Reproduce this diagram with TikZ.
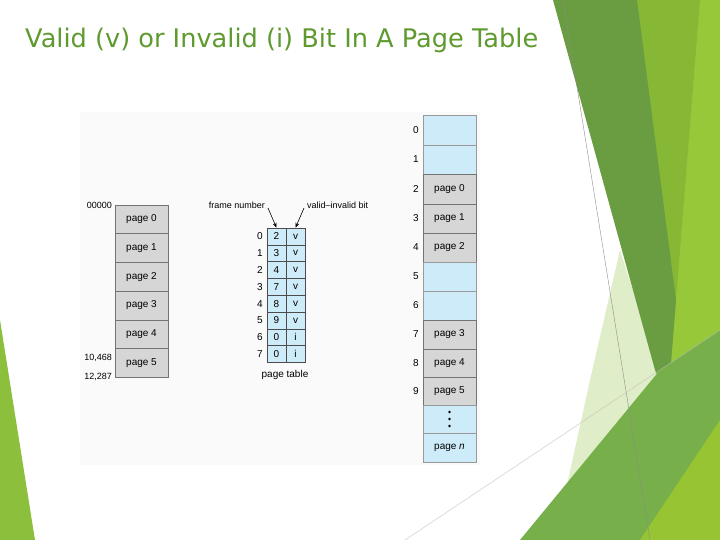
\documentclass[tikz,border=0pt]{standalone}
\usepackage{fontspec}
\setmainfont{Liberation Sans}
\newfontfamily\ttlfont{DejaVu Sans}
\usetikzlibrary{arrows.meta}
\definecolor{cgray}{HTML}{D6D6D6}
\definecolor{cblue}{HTML}{CDEBF8}
\definecolor{ttl}{HTML}{5E9A2E}
\tikzset{
 gcell/.style={draw=black!55,fill=cgray,line width=0.6pt,minimum width=53pt,inner sep=0pt,font=\fontsize{10}{12}\selectfont},
 bcell/.style={draw=black!40,fill=cblue,line width=0.5pt,minimum width=53pt,inner sep=0pt,font=\fontsize{10}{12}\selectfont},
 ptc/.style={draw=black!70,fill=cblue,line width=0.5pt,minimum width=19pt,minimum height=16.8pt,inner sep=0pt,font=\fontsize{10}{12}\selectfont},
 lbl/.style={inner sep=0pt,font=\fontsize{10}{12}\selectfont},
 slbl/.style={inner sep=0pt,font=\fontsize{9}{11}\selectfont}
}
\begin{document}
\begin{tikzpicture}[x=1pt,y=-1pt]
\useasboundingbox (0,0) rectangle (720,540);
% decorations
\fill[fill={rgb,255:red,150;green,200;blue,58}] (637,0) -- (720,0) -- (720,540) -- (630,540) -- (660,380) -- cycle;
\fill[fill={rgb,255:red,134;green,184;blue,54}] (637,0) -- (700,0) -- (676,300) -- (668,400) -- cycle;
\fill[fill={rgb,255:red,223;green,238;blue,200}] (620,250) -- (668,400) -- (610,470) -- (555,540) -- (590,380) -- cycle;
\fill[fill={rgb,255:red,106;green,156;blue,66}] (553,0) -- (637,0) -- (676,300) -- (668,400) -- (655,370) -- cycle;
\fill[fill={rgb,255:red,119;green,176;blue,74}] (520,540) -- (660,370) -- (720,330) -- (720,540) -- cycle;
\fill[fill={rgb,255:red,150;green,196;blue,50}] (640,540) -- (720,420) -- (720,540) -- cycle;
\fill[fill={rgb,255:red,140;green,192;blue,60}] (0,320) -- (35,540) -- (0,540) -- cycle;
\draw[black!45,line width=0.4pt] (563,0) -- (650,540);
\draw[black!25,line width=0.4pt] (405,540) -- (720,330);
% title
\node[anchor=west,inner sep=0pt,text=ttl] (title) at (25,40) {\resizebox{513pt}{!}{\ttlfont\fontsize{19}{22}\selectfont Valid (v) or Invalid (i) Bit In A Page Table}};
% figure background
\fill[black!2] (80,112) rectangle (480,465);
% logical memory
\foreach \t [count=\i from 0] in {page 0,page 1,page 2,page 3,page 4,page 5}{
  \node[gcell,minimum height=28.7pt] (L\i) at (141.5,{219.35+28.7*\i}) {\t};
}
\node[slbl,anchor=east] (a0) at (112,205) {00000};
\node[slbl,anchor=east] (a1) at (112,358) {10,468};
\node[slbl,anchor=east] (a2) at (112,377) {12,287};
% page table
\foreach \f/\v [count=\i from 0] in {2/v,3/v,4/v,7/v,8/v,9/v,0/i,0/i}{
  \node[ptc] (F\i) at (276.5,{236.4+16.8*\i}) {\f};
  \node[ptc] (V\i) at (295.5,{236.4+16.8*\i}) {\v};
  \node[lbl,anchor=east] (I\i) at (263,{236.4+16.8*\i}) {\i};
}
\node[lbl] (pt) at (285,375) {page table};
\node[slbl,anchor=east] (fn) at (265,205) {frame number};
\node[slbl,anchor=west] (vb) at (307,205) {valid–invalid bit};
\draw[-{Stealth[length=5pt]},line width=0.6pt] (268,208) -- (F0.north);
\draw[-{Stealth[length=5pt]},line width=0.6pt] (304,208) -- (V0.north);
% physical memory
\foreach \c/\t/\y/\h [count=\i from 0] in {bcell//115/30,bcell//145/29,gcell/page 0/174/30,gcell/page 1/204/29,gcell/page 2/233/29,bcell//262/29,bcell//291/29,gcell/page 3/320/29,gcell/page 4/349/28,gcell/page 5/377/28}{
  \node[\c,minimum height=\h pt] (P\i) at (449.5,{\y+\h/2}) {\t};
  \node[lbl,anchor=east] (N\i) at (419,{\y+\h/2}) {\i};
}
\node[bcell,minimum height=28pt] (Pd) at (449.5,419) {};
\foreach \dy in {-7,0,7} \fill (449.5,419+\dy) circle (1.3pt);
\node[bcell,minimum height=29pt] (Pn) at (449.5,447.5) {page \textit{n}};
\end{tikzpicture}
\end{document}
